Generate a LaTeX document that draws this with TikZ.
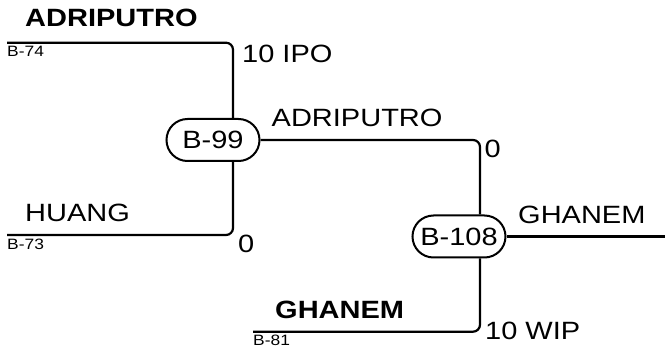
\documentclass[tikz,border=0pt]{standalone}
\usepackage{fontspec}
\setmainfont{Liberation Sans}[FakeStretch=1.16]
\usetikzlibrary{shapes.misc,calc}
\tikzset{
  conn/.style={line width=2.2pt, rounded corners=7pt},
  jbox/.style={rounded rectangle, draw, line width=2pt, fill=white,
    minimum width=93pt, minimum height=42pt, inner sep=0pt,
    font=\fontsize{25}{29}\selectfont},
  big/.style={inner sep=0pt, anchor=base west, font=\fontsize{25}{29}\selectfont},
  bigb/.style={big, font=\fontsize{25}{29}\selectfont\bfseries},
  small/.style={inner sep=0pt, anchor=base west, font=\fontsize{15}{17}\selectfont}
}
\begin{document}
\begin{tikzpicture}[x=1pt,y=-1pt]
\useasboundingbox (0,0) rectangle (665,350);
% junction boxes
\node[jbox] (b99) at (213,140) {B-99};
\node[jbox] (b108) at (459,236.5) {B-108};
% free ends
\coordinate (a74) at (7,42.7);
\coordinate (a73) at (7,235);
\coordinate (a81) at (253,331.7);
\coordinate (out) at (665,236.5);
% connectors
\draw[conn] (a74) -| ([xshift=20pt]b99.north);
\draw[conn] (a73) -| ([xshift=20pt]b99.south);
\draw[conn] (b99.east) -| ([xshift=21pt]b108.north);
\draw[conn] (a81) -| ([xshift=21pt]b108.south);
\draw[conn] (b108.east) -- (out);
% labels
\node[bigb] (t1) at (25,26.7) {ADRIPUTRO};
\node[small] (s74) at (7,56.7) {B-74};
\node[big] (l1) at (242,63) {10 IPO};
\node[big] (l2) at (271.5,126.7) {ADRIPUTRO};
\node[big] (l3) at (484.5,158) {0};
\node[big] (t2) at (25,221.7) {HUANG};
\node[small] (s73) at (7,250) {B-73};
\node[big] (l4) at (238,253) {0};
\node[big] (l5) at (518,224) {GHANEM};
\node[bigb] (t3) at (275,318.3) {GHANEM};
\node[small] (s81) at (253,345) {B-81};
\node[big] (l6) at (485,340) {10 WIP};
\end{tikzpicture}
\end{document}
